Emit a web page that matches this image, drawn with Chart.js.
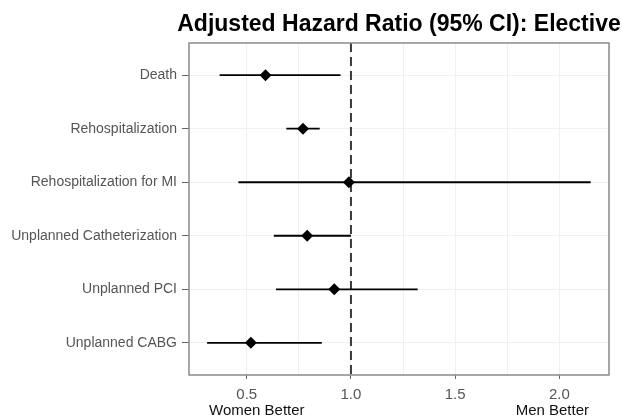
<!DOCTYPE html>
<html>
<head>
<meta charset="utf-8">
<script src="https://cdn.jsdelivr.net/npm/chart.js@4"></script>
<style>
  html, body { margin: 0; padding: 0; background: #fff; }
</style>
</head>
<body>
<canvas id="forest" width="622" height="417"></canvas>
<script>
// Hazard ratios with 95% CI per outcome (elective cohort)
const outcomes = ['Death', 'Rehospitalization', 'Rehospitalization for MI', 'Unplanned Catheterization', 'Unplanned PCI', 'Unplanned CABG'];
const hazardRatio = [0.59, 0.77, 0.99, 0.79, 0.92, 0.52];
const ciLower = [0.37, 0.69, 0.46, 0.63, 0.64, 0.31];
const ciUpper = [0.95, 0.85, 2.15, 1.00, 1.32, 0.86];
const xTicks = [0.5, 1.0, 1.5, 2.0];
const xMinorGrid = [0.75, 1.25, 1.75];
const refLine = 1.0;

const FONT = "'Liberation Sans', Arial, sans-serif";

// one horizontal segment per outcome for the CI
const ciSets = outcomes.map((name, i) => ({
    type: 'line',
    label: name + ' CI',
    data: [{ x: ciLower[i], y: i + 1 }, { x: ciUpper[i], y: i + 1 }],
    borderColor: '#000',
    borderWidth: 1.8,
    pointRadius: 0,
    order: 2
}));

const panelDecor = {
    id: 'panelDecor',
    afterDatasetsDraw(chart) {
        const { ctx, chartArea: a } = chart;
        ctx.save();
        ctx.strokeStyle = '#8a8a8a';
        ctx.lineWidth = 1.5;
        ctx.strokeRect(a.left, a.top, a.right - a.left, a.bottom - a.top);
        ctx.restore();
    },
    afterDraw(chart) {
        const { ctx, chartArea: a } = chart;
        ctx.save();
        ctx.fillStyle = '#000';
        ctx.font = 'bold 23px ' + FONT;
        ctx.textAlign = 'center';
        ctx.textBaseline = 'alphabetic';
        ctx.fillText('Adjusted Hazard Ratio (95% CI): Elective', (a.left + a.right) / 2, 31);

        ctx.font = '15px ' + FONT;
        ctx.fillStyle = '#111';
        ctx.textAlign = 'left';
        ctx.fillText('Women Better', a.left + 20, 415);
        ctx.textAlign = 'right';
        ctx.fillText('Men Better', a.right - 20, 415);
        ctx.restore();
    }
};

new Chart(document.getElementById('forest'), {
    type: 'scatter',
    data: {
        datasets: [
            {
                label: 'HR',
                data: hazardRatio.map((v, i) => ({ x: v, y: i + 1 })),
                pointStyle: 'rectRot',
                pointRadius: 6,
                pointHoverRadius: 6,
                backgroundColor: '#000',
                borderColor: '#000',
                borderWidth: 0,
                order: 0
            },
            ...ciSets,
            {
                type: 'line',
                label: 'No difference',
                data: [{ x: refLine, y: 0.4 }, { x: refLine, y: 6.6 }],
                borderColor: '#3a3a3a',
                borderWidth: 2,
                borderDash: [9, 5],
                pointRadius: 0,
                order: 3
            }
        ]
    },
    options: {
        responsive: false,
        animation: false,
        devicePixelRatio: 1,
        layout: { padding: { top: 43, right: 13, left: 0, bottom: 0 } },
        plugins: {
            legend: { display: false },
            tooltip: { enabled: false }
        },
        scales: {
            x: {
                type: 'linear',
                min: 0.223,
                max: 2.238,
                afterBuildTicks: scale => {
                    scale.ticks = [...xTicks, ...xMinorGrid].sort((a, b) => a - b).map(v => ({ value: v }));
                },
                afterFit: scale => { scale.height = 42; },
                border: { display: false },
                grid: {
                    color: '#f0f0f0',
                    lineWidth: 1,
                    tickLength: 4,
                    tickColor: ctx => xTicks.includes(ctx.tick.value) ? '#666' : 'rgba(0,0,0,0)'
                },
                ticks: {
                    autoSkip: false,
                    maxRotation: 0,
                    padding: 7,
                    color: '#555',
                    font: { family: FONT, size: 15 },
                    callback: v => xTicks.includes(v) ? v.toFixed(1) : ''
                }
            },
            y: {
                type: 'linear',
                reverse: true,
                min: 0.4,
                max: 6.6,
                afterBuildTicks: scale => {
                    scale.ticks = outcomes.map((_, i) => ({ value: i + 1 }));
                },
                afterFit: scale => { scale.width = 189; },
                border: { display: false },
                grid: {
                    color: '#f0f0f0',
                    tickLength: 7,
                    tickColor: '#666'
                },
                ticks: {
                    autoSkip: false,
                    padding: 5,
                    color: '#555',
                    font: { family: FONT, size: 14 },
                    callback: v => outcomes[v - 1]
                }
            }
        }
    },
    plugins: [panelDecor]
});
</script>
</body>
</html>
